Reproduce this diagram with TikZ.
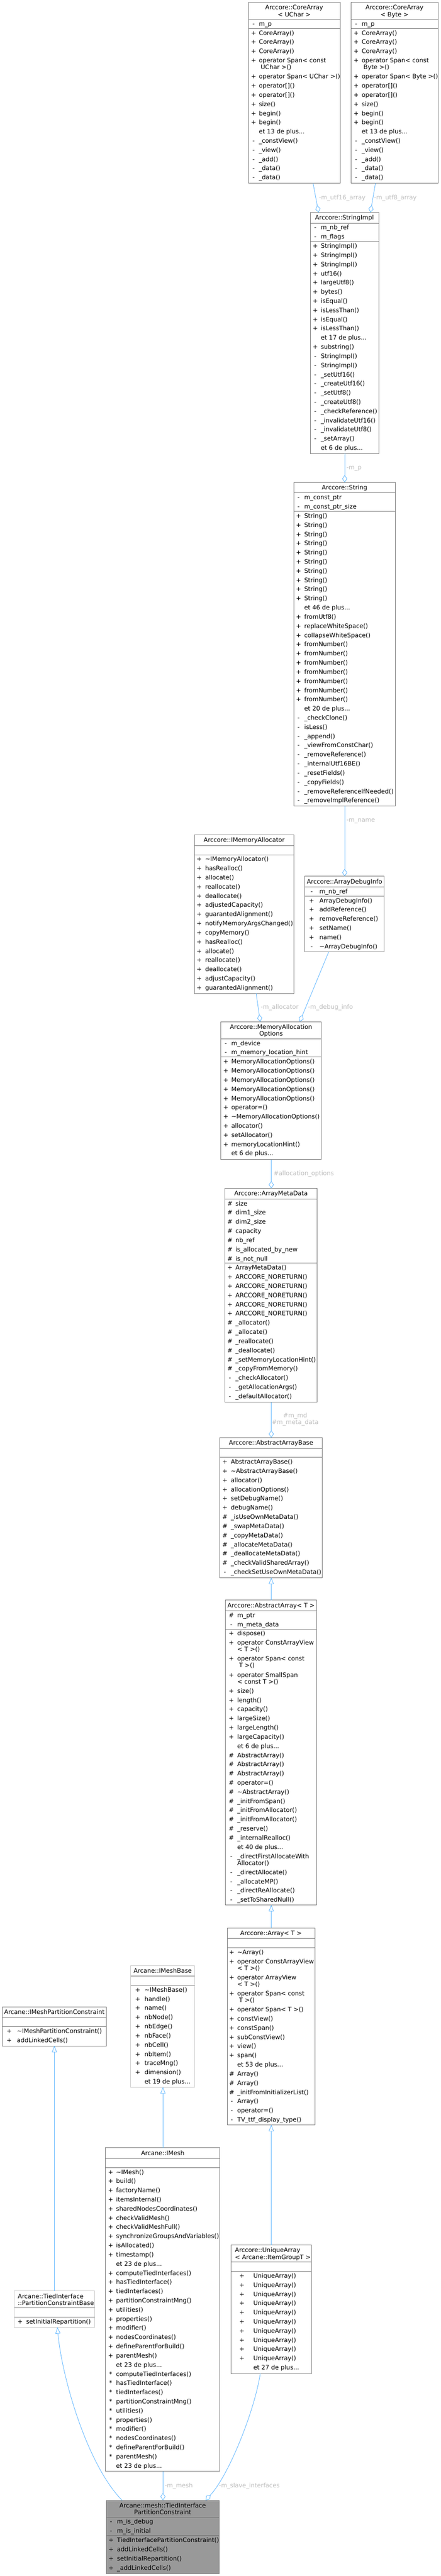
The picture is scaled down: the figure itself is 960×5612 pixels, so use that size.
\documentclass[tikz,border=0pt]{standalone}
\usepackage{fontspec}
\setmainfont{DejaVu Sans}
\usetikzlibrary{arrows.meta}
\definecolor{edgeblue}{HTML}{63B8FF}
\definecolor{lblgray}{HTML}{BEBEBE}
\definecolor{bord}{HTML}{777777}
\definecolor{bordlight}{HTML}{C8C8C8}
\definecolor{fillgray}{HTML}{999999}
\newcounter{rc}
\newcommand\BoxAt[6]{%
  \pgfmathsetmacro\bw{#4-#2}\pgfmathsetmacro\bh{#5-#3}%
  \node[#6,anchor=north west,minimum width=\bw pt,minimum height=\bh pt] (#1) at (#2,#3) {};%
  \xdef\BL{#2}\xdef\BR{#4}\xdef\CY{#3}}
\newcommand\Cols[2]{\pgfmathsetmacro\tmp{\BL+#1}\xdef\SX{\tmp}\pgfmathsetmacro\tmp{\BL+#2}\xdef\NX{\tmp}}
\newcommand\HSep{\draw[sepline] (\BL,\CY) -- (\BR,\CY);}
\newcommand\HeadOne[1]{\stepcounter{rc}\pgfmathsetmacro\hx{(\BL+\BR)/2}%
  \node[txt,anchor=base] (h\arabic{rc}) at (\hx,\CY+16) {#1};%
  \pgfmathsetmacro\tmp{\CY+23}\xdef\CY{\tmp}\HSep}
\newcommand\HeadTwo[2]{\stepcounter{rc}\pgfmathsetmacro\hx{(\BL+\BR)/2}%
  \node[txt,anchor=base] (ha\arabic{rc}) at (\hx,\CY+16) {#1};%
  \node[txt,anchor=base] (hb\arabic{rc}) at (\hx,\CY+31) {#2};%
  \pgfmathsetmacro\tmp{\CY+37}\xdef\CY{\tmp}\HSep}
\newcommand\HeadTwoL[3]{\stepcounter{rc}\pgfmathsetmacro\hx{\BL+#3}%
  \node[txt,anchor=base west] (ha\arabic{rc}) at (\hx,\CY+16) {#1};%
  \node[txt,anchor=base west] (hb\arabic{rc}) at (\hx,\CY+31) {#2};%
  \pgfmathsetmacro\tmp{\CY+37}\xdef\CY{\tmp}\HSep}
\newcommand\EmptyComp{\pgfmathsetmacro\tmp{\CY+20}\xdef\CY{\tmp}\HSep}
\newcommand\Mr[2]{\stepcounter{rc}%
  \node[txt,anchor=base] (s\arabic{rc}) at (\SX,\CY+14.5) {#1};%
  \node[txt,anchor=base west] (m\arabic{rc}) at (\NX,\CY+14.5) {#2};%
  \pgfmathsetmacro\tmp{\CY+20}\xdef\CY{\tmp}}
\newcommand\Mrr[3]{\stepcounter{rc}%
  \node[txt,anchor=base] (s\arabic{rc}) at (\SX,\CY+14.5) {#1};%
  \node[txt,anchor=base west] (m\arabic{rc}) at (\NX,\CY+14.5) {#2};%
  \node[txt,anchor=base west] (mb\arabic{rc}) at (\NX,\CY+29.1) {#3};%
  \pgfmathsetmacro\tmp{\CY+35}\xdef\CY{\tmp}}
\newcommand\tl{\textasciitilde}
\begin{document}
\begin{tikzpicture}[x=1pt,y=-1pt,
  txt/.style={font=\fontsize{13.3}{15}\selectfont,inner sep=0pt,outer sep=0pt},
  lbl/.style={txt,text=lblgray},
  umlbox/.style={draw=bord,line width=1pt,fill=white,inner sep=0pt,outer sep=0pt},
  lightbox/.style={draw=bordlight,line width=1pt,fill=white,inner sep=0pt,outer sep=0pt},
  darkbox/.style={draw=bord,line width=1pt,fill=fillgray,inner sep=0pt,outer sep=0pt},
  sepline/.style={draw=bord,line width=1pt},
  aggr/.style={draw=edgeblue,line width=1pt,-{Diamond[open,length=16pt,width=11pt]}},
  inh/.style={draw=edgeblue,line width=1pt,-{Triangle[open,length=14pt,width=11pt]}}]
\path[fill=white,use as bounding box] (0,0) rectangle (960,5612);

% CoreArray<UChar>
\BoxAt{cau}{541}{5}{741}{399}{umlbox}\Cols{11.5}{23}
\HeadTwo{Arccore::CoreArray}{< UChar >}
\Mr{-}{m\_p}\HSep
\Mr{+}{CoreArray()}\Mr{+}{CoreArray()}\Mr{+}{CoreArray()}
\Mrr{+}{operator Span< const}{\hspace{4pt}UChar >()}
\Mr{+}{operator Span< UChar >()}
\Mr{+}{operator[]()}\Mr{+}{operator[]()}
\Mr{+}{size()}\Mr{+}{begin()}\Mr{+}{begin()}
\Mr{}{et 13 de plus...}
\Mr{-}{\_constView()}\Mr{-}{\_view()}\Mr{-}{\_add()}\Mr{-}{\_data()}\Mr{-}{\_data()}

% CoreArray<Byte>
\BoxAt{cab}{765}{5}{954}{399}{umlbox}\Cols{11}{23}
\HeadTwo{Arccore::CoreArray}{< Byte >}
\Mr{-}{m\_p}\HSep
\Mr{+}{CoreArray()}\Mr{+}{CoreArray()}\Mr{+}{CoreArray()}
\Mrr{+}{operator Span< const}{\hspace{4pt}Byte >()}
\Mr{+}{operator Span< Byte >()}
\Mr{+}{operator[]()}\Mr{+}{operator[]()}
\Mr{+}{size()}\Mr{+}{begin()}\Mr{+}{begin()}
\Mr{}{et 13 de plus...}
\Mr{-}{\_constView()}\Mr{-}{\_view()}\Mr{-}{\_add()}\Mr{-}{\_data()}\Mr{-}{\_data()}

% StringImpl
\BoxAt{simpl}{676}{463}{825}{988}{umlbox}\Cols{11}{23}
\HeadOne{Arccore::StringImpl}
\Mr{-}{m\_nb\_ref}\Mr{-}{m\_flags}\HSep
\Mr{+}{StringImpl()}\Mr{+}{StringImpl()}\Mr{+}{StringImpl()}
\Mr{+}{utf16()}\Mr{+}{largeUtf8()}\Mr{+}{bytes()}
\Mr{+}{isEqual()}\Mr{+}{isLessThan()}\Mr{+}{isEqual()}\Mr{+}{isLessThan()}
\Mr{}{et 17 de plus...}
\Mr{+}{substring()}
\Mr{-}{StringImpl()}\Mr{-}{StringImpl()}
\Mr{-}{\_setUtf16()}\Mr{-}{\_createUtf16()}\Mr{-}{\_setUtf8()}\Mr{-}{\_createUtf8()}
\Mr{-}{\_checkReference()}\Mr{-}{\_invalidateUtf16()}\Mr{-}{\_invalidateUtf8()}
\Mr{-}{\_setArray()}
\Mr{}{et 6 de plus...}

% String
\BoxAt{str}{640}{1051}{861}{1756}{umlbox}\Cols{10.5}{23}
\HeadOne{Arccore::String}
\Mr{-}{m\_const\_ptr}\Mr{-}{m\_const\_ptr\_size}\HSep
\Mr{+}{String()}\Mr{+}{String()}\Mr{+}{String()}\Mr{+}{String()}\Mr{+}{String()}
\Mr{+}{String()}\Mr{+}{String()}\Mr{+}{String()}\Mr{+}{String()}\Mr{+}{String()}
\Mr{}{et 46 de plus...}
\Mr{+}{fromUtf8()}\Mr{+}{replaceWhiteSpace()}\Mr{+}{collapseWhiteSpace()}
\Mr{+}{fromNumber()}\Mr{+}{fromNumber()}\Mr{+}{fromNumber()}\Mr{+}{fromNumber()}
\Mr{+}{fromNumber()}\Mr{+}{fromNumber()}\Mr{+}{fromNumber()}
\Mr{}{et 20 de plus...}
\Mr{-}{\_checkClone()}\Mr{-}{isLess()}\Mr{-}{\_append()}\Mr{-}{\_viewFromConstChar()}
\Mr{-}{\_removeReference()}\Mr{-}{\_internalUtf16BE()}\Mr{-}{\_resetFields()}
\Mr{-}{\_copyFields()}\Mr{-}{\_removeReferenceIfNeeded()}\Mr{-}{\_removeImplReference()}

% IMemoryAllocator
\BoxAt{imalloc}{424}{1819}{640}{2164}{umlbox}\Cols{10}{23}
\HeadOne{Arccore::IMemoryAllocator}
\EmptyComp
\Mr{+}{\tl IMemoryAllocator()}\Mr{+}{hasRealloc()}\Mr{+}{allocate()}
\Mr{+}{reallocate()}\Mr{+}{deallocate()}\Mr{+}{adjustedCapacity()}
\Mr{+}{guarantedAlignment()}\Mr{+}{notifyMemoryArgsChanged()}\Mr{+}{copyMemory()}
\Mr{+}{hasRealloc()}\Mr{+}{allocate()}\Mr{+}{reallocate()}
\Mr{+}{deallocate()}\Mr{+}{adjustCapacity()}\Mr{+}{guarantedAlignment()}

% ArrayDebugInfo
\BoxAt{adi}{664}{1909}{837}{2074}{umlbox}\Cols{15}{32}
\HeadOne{Arccore::ArrayDebugInfo}
\Mr{-}{m\_nb\_ref}\HSep
\Mr{+}{ArrayDebugInfo()}\Mr{+}{addReference()}\Mr{+}{removeReference()}
\Mr{+}{setName()}\Mr{+}{name()}\Mr{-}{\tl ArrayDebugInfo()}

% MemoryAllocationOptions
\BoxAt{mao}{481}{2226}{700}{2526}{umlbox}\Cols{11}{23}
\HeadTwo{Arccore::MemoryAllocation}{Options}
\Mr{-}{m\_device}\Mr{-}{m\_memory\_location\_hint}\HSep
\Mr{+}{MemoryAllocationOptions()}\Mr{+}{MemoryAllocationOptions()}
\Mr{+}{MemoryAllocationOptions()}\Mr{+}{MemoryAllocationOptions()}
\Mr{+}{MemoryAllocationOptions()}\Mr{+}{operator=()}
\Mr{+}{\tl MemoryAllocationOptions()}\Mr{+}{allocator()}\Mr{+}{setAllocator()}
\Mr{+}{memoryLocationHint()}\Mr{}{et 6 de plus...}

% ArrayMetaData
\BoxAt{amd}{490}{2589}{691}{3055}{umlbox}\Cols{11}{23}
\HeadOne{Arccore::ArrayMetaData}
\Mr{\#}{size}\Mr{\#}{dim1\_size}\Mr{\#}{dim2\_size}\Mr{\#}{capacity}
\Mr{\#}{nb\_ref}\Mr{\#}{is\_allocated\_by\_new}\Mr{\#}{is\_not\_null}\HSep
\Mr{+}{ArrayMetaData()}\Mr{+}{ARCCORE\_NORETURN()}\Mr{+}{ARCCORE\_NORETURN()}
\Mr{+}{ARCCORE\_NORETURN()}\Mr{+}{ARCCORE\_NORETURN()}\Mr{+}{ARCCORE\_NORETURN()}
\Mr{\#}{\_allocator()}\Mr{\#}{\_allocate()}\Mr{\#}{\_reallocate()}\Mr{\#}{\_deallocate()}
\Mr{\#}{\_setMemoryLocationHint()}\Mr{\#}{\_copyFromMemory()}
\Mr{-}{\_checkAllocator()}\Mr{-}{\_getAllocationArgs()}\Mr{-}{\_defaultAllocator()}

% AbstractArrayBase
\BoxAt{aab}{479}{3132}{702}{3437}{umlbox}\Cols{11}{24}
\HeadOne{Arccore::AbstractArrayBase}
\EmptyComp
\Mr{+}{AbstractArrayBase()}\Mr{+}{\tl AbstractArrayBase()}\Mr{+}{allocator()}
\Mr{+}{allocationOptions()}\Mr{+}{setDebugName()}\Mr{+}{debugName()}
\Mr{\#}{\_isUseOwnMetaData()}\Mr{\#}{\_swapMetaData()}\Mr{\#}{\_copyMetaData()}
\Mr{\#}{\_allocateMetaData()}\Mr{\#}{\_deallocateMetaData()}\Mr{\#}{\_checkValidSharedArray()}
\Mr{-}{\_checkSetUseOwnMetaData()}

% AbstractArray<T>
\BoxAt{aa}{491}{3486}{690}{4150}{umlbox}\Cols{13}{26}
\HeadOne{Arccore::AbstractArray< T >}
\Mr{\#}{m\_ptr}\Mr{-}{m\_meta\_data}\HSep
\Mr{+}{dispose()}
\Mrr{+}{operator ConstArrayView}{< T >()}
\Mrr{+}{operator Span< const}{\hspace{4pt}T >()}
\Mrr{+}{operator SmallSpan}{< const T >()}
\Mr{+}{size()}\Mr{+}{length()}\Mr{+}{capacity()}\Mr{+}{largeSize()}
\Mr{+}{largeLength()}\Mr{+}{largeCapacity()}
\Mr{}{et 6 de plus...}
\Mr{\#}{AbstractArray()}\Mr{\#}{AbstractArray()}\Mr{\#}{AbstractArray()}
\Mr{\#}{operator=()}\Mr{\#}{\tl AbstractArray()}\Mr{\#}{\_initFromSpan()}
\Mr{\#}{\_initFromAllocator()}\Mr{\#}{\_initFromAllocator()}\Mr{\#}{\_reserve()}
\Mr{\#}{\_internalRealloc()}
\Mr{}{et 40 de plus...}
\Mrr{-}{\_directFirstAllocateWith}{Allocator()}
\Mr{-}{\_directAllocate()}\Mr{-}{\_allocateMP()}\Mr{-}{\_directReAllocate()}
\Mr{-}{\_setToSharedNull()}

% Array<T>
\BoxAt{arr}{495}{4200}{686}{4629}{umlbox}\Cols{10}{22}
\HeadOne{Arccore::Array< T >}
\EmptyComp
\Mr{+}{\tl Array()}
\Mrr{+}{operator ConstArrayView}{< T >()}
\Mrr{+}{operator ArrayView}{< T >()}
\Mrr{+}{operator Span< const}{\hspace{4pt}T >()}
\Mr{+}{operator Span< T >()}
\Mr{+}{constView()}\Mr{+}{constSpan()}\Mr{+}{subConstView()}\Mr{+}{view()}\Mr{+}{span()}
\Mr{}{et 53 de plus...}
\Mr{\#}{Array()}\Mr{\#}{Array()}\Mr{\#}{\_initFromInitializerList()}
\Mr{-}{Array()}\Mr{-}{operator=()}\Mr{-}{TV\_ttf\_display\_type()}

% UniqueArray
\BoxAt{ua}{503}{4891}{678}{5171}{umlbox}\Cols{24}{49}
\HeadTwoL{Arccore::UniqueArray}{< Arcane::ItemGroupT >}{9}
\EmptyComp
\Mr{+}{UniqueArray()}\Mr{+}{UniqueArray()}\Mr{+}{UniqueArray()}\Mr{+}{UniqueArray()}
\Mr{+}{UniqueArray()}\Mr{+}{UniqueArray()}\Mr{+}{UniqueArray()}\Mr{+}{UniqueArray()}
\Mr{+}{UniqueArray()}\Mr{+}{UniqueArray()}
\Mr{}{et 27 de plus...}

% IMeshPartitionConstraint
\BoxAt{impc}{5}{4372}{232}{4457}{umlbox}\Cols{15}{32}
\HeadOne{Arcane::IMeshPartitionConstraint}
\EmptyComp
\Mr{+}{\tl IMeshPartitionConstraint()}\Mr{+}{addLinkedCells()}

% IMeshBase
\BoxAt{imb}{285}{4282}{424}{4547}{lightbox}\Cols{15}{30}
\HeadOne{Arcane::IMeshBase}
\EmptyComp
\Mr{+}{\tl IMeshBase()}\Mr{+}{handle()}\Mr{+}{name()}\Mr{+}{nbNode()}
\Mr{+}{nbEdge()}\Mr{+}{nbFace()}\Mr{+}{nbCell()}\Mr{+}{nbItem()}
\Mr{+}{traceMng()}\Mr{+}{dimension()}
\Mr{}{et 19 de plus...}

% IMesh
\BoxAt{imesh}{230}{4679}{479}{5384}{umlbox}\Cols{11}{23}
\HeadOne{Arcane::IMesh}
\EmptyComp
\Mr{+}{\tl IMesh()}\Mr{+}{build()}\Mr{+}{factoryName()}\Mr{+}{itemsInternal()}
\Mr{+}{sharedNodesCoordinates()}\Mr{+}{checkValidMesh()}\Mr{+}{checkValidMeshFull()}
\Mr{+}{synchronizeGroupsAndVariables()}\Mr{+}{isAllocated()}\Mr{+}{timestamp()}
\Mr{}{et 23 de plus...}
\Mr{+}{computeTiedInterfaces()}\Mr{+}{hasTiedInterface()}\Mr{+}{tiedInterfaces()}
\Mr{+}{partitionConstraintMng()}\Mr{+}{utilities()}\Mr{+}{properties()}
\Mr{+}{modifier()}\Mr{+}{nodesCoordinates()}\Mr{+}{defineParentForBuild()}
\Mr{+}{parentMesh()}
\Mr{}{et 23 de plus...}
\Mr{*}{computeTiedInterfaces()}\Mr{*}{hasTiedInterface()}\Mr{*}{tiedInterfaces()}
\Mr{*}{partitionConstraintMng()}\Mr{*}{utilities()}\Mr{*}{properties()}
\Mr{*}{modifier()}\Mr{*}{nodesCoordinates()}\Mr{*}{defineParentForBuild()}
\Mr{*}{parentMesh()}
\Mr{}{et 23 de plus...}

% TiedInterface::PartitionConstraintBase
\BoxAt{pcb}{31}{4991}{206}{5070}{lightbox}\Cols{13}{26}
\HeadTwoL{Arcane::TiedInterface}{::PartitionConstraintBase}{8}
\EmptyComp
\Mr{+}{setInitialRepartition()}

% TiedInterfacePartitionConstraint
\BoxAt{tipc}{232}{5447}{477}{5607}{darkbox}\Cols{10}{23}
\HeadTwo{Arcane::mesh::TiedInterface}{PartitionConstraint}
\Mr{-}{m\_is\_debug}\Mr{-}{m\_is\_initial}\HSep
\Mr{+}{TiedInterfacePartitionConstraint()}\Mr{+}{addLinkedCells()}
\Mr{+}{setInitialRepartition()}\Mr{+}{\_addLinkedCells()}

% connectors
\draw[aggr] ([xshift=141pt]cau.south west) -- ([xshift=18pt]simpl.north west);
\draw[aggr] ([xshift=53pt]cab.south west) -- ([xshift=131pt]simpl.north west);
\draw[aggr] ([xshift=75pt]simpl.south west) -- ([xshift=75pt]simpl.south west |- str.north);
\draw[aggr] ([xshift=111pt]str.south west) -- ([xshift=111pt]str.south west |- adi.north);
\draw[aggr] ([xshift=134pt]imalloc.south west) -- ([xshift=86pt]mao.north west);
\draw[aggr] ([xshift=52pt]adi.south west) -- ([xshift=172pt]mao.north west);
\draw[aggr] ([xshift=110pt]mao.south west) -- ([xshift=110pt]mao.south west |- amd.north);
\draw[aggr] ([xshift=101pt]amd.south west) -- ([xshift=101pt]amd.south west |- aab.north);
\draw[inh] ([xshift=100pt]aa.north west) -- ([xshift=100pt]aa.north west |- aab.south);
\draw[inh] ([xshift=96pt]arr.north west) -- ([xshift=96pt]arr.north west |- aa.south);
\draw[inh] ([xshift=88pt]ua.north west) -- ([xshift=88pt]ua.north west |- arr.south);
\draw[inh] ([xshift=125pt]imesh.north west) -- ([xshift=125pt]imesh.north west |- imb.south);
\draw[inh] ([xshift=87.5pt]pcb.north west) -- ([xshift=113.5pt]impc.south west);
\draw[inh] ([xshift=34pt]tipc.north west) .. controls (190,5370) and (135,5180) .. ([xshift=94pt]pcb.south west);
\draw[aggr] ([xshift=125pt]imesh.south west) -- ([xshift=123pt]tipc.north west);
\draw[aggr] ([xshift=64pt]ua.south west) .. controls (555,5250) and (500,5390) .. ([xshift=216pt]tipc.north west);

% connector labels
\node[lbl,anchor=base west] (lutf16) at (695,434.5) {-m\_utf16\_array};
\node[lbl,anchor=base west] (lutf8) at (815,434.5) {-m\_utf8\_array};
\node[lbl,anchor=base west] (lmp) at (755,1023.5) {-m\_p};
\node[lbl,anchor=base west] (lname) at (755,1790.5) {-m\_name};
\node[lbl,anchor=base west] (lalloc) at (568,2198.5) {-m\_allocator};
\node[lbl,anchor=base west] (ldebug) at (671,2198.5) {-m\_debug\_info};
\node[lbl,anchor=base west] (lao) at (596,2560.5) {\#allocation\_options};
\node[lbl,anchor=base] (lmd) at (643,3088.5) {\#m\_md};
\node[lbl,anchor=base] (lmeta) at (643,3103) {\#m\_meta\_data};
\node[lbl,anchor=base west] (lmesh) at (359,5419.5) {-m\_mesh};
\node[lbl,anchor=base west] (lslave) at (477,5419.5) {-m\_slave\_interfaces};
\end{tikzpicture}
\end{document}
